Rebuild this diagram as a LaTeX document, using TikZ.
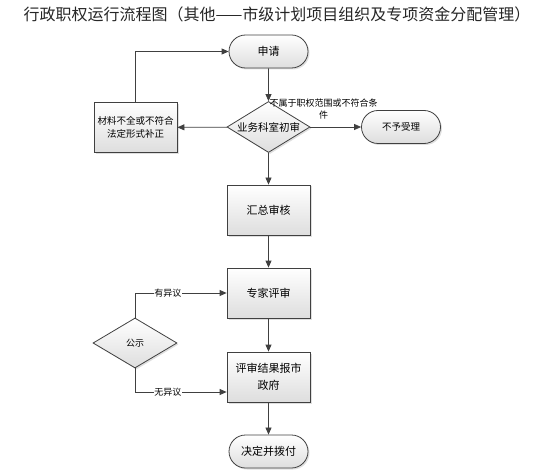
\documentclass[tikz,border=0pt]{standalone}
\usepackage{fontspec}
\newfontfamily\cjk{Noto Sans CJK SC}
\usetikzlibrary{shapes.geometric,shapes.misc,arrows.meta,shadows}

\tikzset{
  boxshade/.style={draw=black!75, line width=0.8pt, top color=white, bottom color=black!13,
    drop shadow={shadow xshift=1.5pt, shadow yshift=-1.5pt, opacity=0.25}},
  procbox/.style={boxshade, rectangle, minimum width=83pt, minimum height=50pt,
    align=center, inner sep=2pt, font=\cjk\fontsize{11}{16.5}\selectfont},
  termbox/.style={boxshade, rounded rectangle, minimum width=83pt, minimum height=33pt,
    inner sep=2pt, font=\cjk\fontsize{11}{13}\selectfont},
  decbox/.style={boxshade, diamond, aspect=1.63, inner sep=0pt, minimum width=83pt,
    minimum height=51pt, font=\cjk\fontsize{10.5}{12}\selectfont},
  arr/.style={draw=black!75, line width=0.8pt, -{Triangle[length=7pt,width=6pt]}},
  lbl/.style={fill=white, inner sep=0.5pt, font=\cjk\fontsize{9}{11}\selectfont}
}

\begin{document}
\begin{tikzpicture}[x=1pt, y=-1pt]
  % 页面范围 554 x 473
  \useasboundingbox (0,0) rectangle (554,473);

  \node[font=\cjk\fontsize{16}{18}\selectfont, text=black!85] (title) at (277,14)
    {行政职权运行流程图（其他——市级计划项目组织及专项资金分配管理）};

  % ---------------- 主流程 ----------------
  \node[termbox] (apply) at (268.5,51.5) {申请};
  \node[decbox] (check) at (268.5,127) {业务科室初审};
  \node[procbox, font=\cjk\fontsize{9.5}{13}\selectfont] (supplement) at (135.5,127.5)
    {材料不全或不符合\\法定形式补正};
  \node[termbox, font=\cjk\fontsize{9.5}{11}\selectfont] (reject) at (401,127) {不予受理};
  \node[procbox] (summary) at (268.5,210) {汇总审核};
  \node[procbox] (expert) at (268.5,293) {专家评审};
  \node[procbox] (report) at (268.5,377) {评审结果报市\\政府};
  \node[termbox] (decide) at (268.5,451.5) {决定并拨付};

  % 公示
  \node[decbox, font=\cjk\fontsize{9}{11}\selectfont, minimum width=84pt, minimum height=50pt]
    (publicity) at (135,343) {公示};
  \coordinate (noobjin) at ([yshift=-15pt]report.west);

  % ---------------- 连线 ----------------
  \draw[arr] (apply) -- (check);
  \draw[arr] (check) -- (supplement);
  \draw[arr] (supplement.north) |- (apply);
  \draw[arr] (check) -- (reject);
  \node[font=\cjk\fontsize{9}{12}\selectfont, align=center, inner sep=0pt] (rejectlbl)
    at (323.5,109) {不属于职权范围或不符合条\\件};
  \draw[arr] (check) -- (summary);
  \draw[arr] (summary) -- (expert);
  \draw[arr] (expert) -- (report);
  \draw[arr] (report) -- (decide);
  \draw[arr] (publicity.north) |- node[lbl, pos=0.68] {有异议} (expert.west);
  \draw[arr] (publicity.south) |- node[lbl, pos=0.68] {无异议} (noobjin);
\end{tikzpicture}
\end{document}
